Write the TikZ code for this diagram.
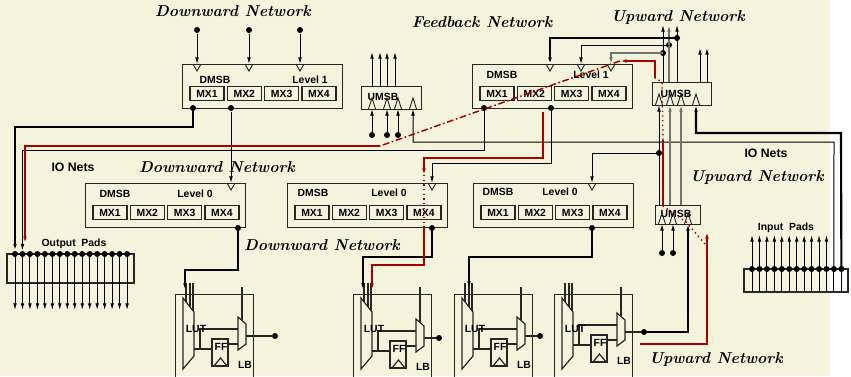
\documentclass[tikz,border=0pt]{standalone}
\usepackage{fontspec}
\setsansfont{Liberation Sans}
\usetikzlibrary{arrows.meta}

\definecolor{paper}{RGB}{244,244,220}
\definecolor{fbred}{RGB}{170,0,0}
\definecolor{wiregray}{RGB}{115,115,115}

\tikzset{every picture/.style={line width=0.75pt}}
\tikzset{
  lbl/.style={font=\sffamily\bfseries\fontsize{7.8}{8.5}\selectfont, inner sep=0pt},
  netlbl/.style={font=\bfseries\itshape\fontsize{11.8}{13}\selectfont, inner sep=0pt},
  iolbl/.style={font=\sffamily\bfseries\fontsize{9.2}{10}\selectfont, inner sep=0pt},
  dot/.style={circle, fill=black, inner sep=0pt, minimum size=4.5pt},
  arr/.style={-{Latex[length=5pt,width=2.8pt]}},
  bus/.style={line width=1.6pt},
  fb/.style={draw=fbred, line width=1.1pt},
  gw/.style={draw=wiregray, line width=1.1pt},
  msb/.style={draw=black!85, line width=0.9pt},
  mxbox/.style={lbl, draw=black!85, line width=0.9pt, minimum width=25.5pt, minimum height=11pt},
  pinin/.style={draw=black!85, line width=0.7pt},
}

\begin{document}
\begin{tikzpicture}[x=0.75pt,y=0.75pt,yscale=-1,xscale=1]
\useasboundingbox (0,0) rectangle (851,376);
\fill[paper] (0,0) rectangle (830,376);

% Network titles
\node[netlbl] (tdown1) at (233,11) {Downward Network};
\node[netlbl] (tfeed) at (482,22) {Feedback Network};
\node[netlbl] (tup1) at (678,18) {Upward Network};
\node[netlbl] (tdown2) at (217,167) {Downward Network};
\node[netlbl] (tdown3) at (322,245) {Downward Network};
\node[netlbl] (tup2) at (757,178) {Upward Network};
\node[netlbl] (tup3) at (716,360) {Upward Network};
\node[iolbl] (tio1) at (73,167) {IO Nets};
\node[iolbl] (tio2) at (766,153) {IO Nets};
\node[lbl] (topad) at (74,244) {Output\ \ Pads};
\node[lbl] (tipad) at (786,228) {Input\ \ Pads};

% DMSB boxes
\foreach \n/\x/\y/\lev/\da/\la/\ly in {l1a/182/64/1/33/128/16, l1b/472/64/1/30/119/11, l0a/85/183/0/30/110/11, l0b/287/183/0/26/102/10, l0c/473/183/0/25/87/9}{
  \node[msb, anchor=north west, minimum width=120pt, minimum height=33pt] (\n) at (\x,\y) {};
  \node[lbl] (\n-t) at (\x+\da,\y+\ly) {DMSB};
  \node[lbl] (\n-lv) at (\x+\la,\y+\ly) {Level \lev};
  \foreach \i in {1,...,4}
    \node[mxbox] (\n-mx\i) at (\x+25+37.3*\i-37.3,\y+29.5) {MX\i};
}

% UMSB boxes
\node[msb, anchor=north west, minimum width=45pt, minimum height=17.25pt] (uA) at (361,86) {};
\node[msb, anchor=north west, minimum width=44.25pt, minimum height=17.25pt] (uB) at (652,82) {};
\node[msb, anchor=north west, minimum width=33.75pt, minimum height=14.25pt] (uC) at (655,205) {};
\node[lbl] (uA-t) at (383,97) {UMSB};
\node[lbl] (uB-t) at (676,94) {UMSB};
\node[lbl] (uC-t) at (676,214) {UMSB};

% input pins of the DMSBs
\foreach \p/\px/\py in {l1a-p1/197/64, l1a-p2/249/64, l1a-p3/300/64, l1b-p1/550/64, l1b-p2/581/64, l1b-p3/611/64, l0a-p/231/183, l0b-p/432/183, l0c-p/592/183}{
  \coordinate (\p) at (\px,\py);
  \draw[pinin] (\px-4,\py) -- (\px,\py+7) -- (\px+4,\py);
}
% input pins of the UMSBs
\foreach \p/\px/\py in {uA-p1/372/109, uA-p2/387/109, uA-p3/398/109, uA-p4/413/109, uB-p1/659/105, uB-p2/670/105, uB-p3/681/105, uB-p4/696/105, uC-p1/662/224, uC-p2/673/224, uC-p3/688/224}{
  \coordinate (\p) at (\px,\py);
  \draw[pinin] (\px-3.5,\py) -- (\px,\py-11) -- (\px+3.5,\py);
}

% logic blocks
\foreach \L/\d/\dy [count=\k] in {175/100/0, 353/86/2, 454/86/0, 554/90/-4}{
  \node[msb, anchor=north west, minimum width=58.5pt, minimum height=75pt] (lb\k) at (\L,294) {};
  \draw[msb] (\L+8,298) -- (\L+19,312) -- (\L+19,356) -- (\L+8,369) -- cycle;
  \draw[msb] (\L+11,283) -- (\L+11,302);
  \draw[msb] (\L+15,283) -- (\L+15,307);
  \draw[msb] (\L+18,283) -- (\L+18,311);
  \draw[msb] (\L+19,349+\dy) -- (\L+37,349+\dy);
  \draw[msb] (\L+25,349+\dy) |- (\L+63,329+\dy);
  \draw[msb] (\L+37,339+\dy) rectangle (\L+53,366+\dy);
  \draw[msb] (\L+39,366+\dy) -- (\L+45.5,358+\dy) -- (\L+52,366+\dy);
  \draw[msb] (\L+53,344+\dy) -- (\L+63,344+\dy);
  \draw[msb] (\L+63,317+\dy) -- (\L+71,324+\dy) -- (\L+71,344+\dy) -- (\L+63,350+\dy) -- cycle;
  \draw[msb] (\L+67,287) -- (\L+67,320+\dy);
  \node[dot] (lbout\k) at (\L+\d,336+\dy) {};
  \draw[msb] (\L+71,336+\dy) -- (lbout\k);
  \node[lbl] (lut\k) at (\L+21,329) {LUT};
  \node[lbl] (ff\k) at (\L+46,347+\dy) {FF};
  \node[lbl] (lbt\k) at (\L+70,365+\dy) {LB};
}
\coordinate (lb1-in) at (185,290);
\coordinate (lb2-in) at (363,290);
\coordinate (lb2-rin) at (372,290);
\coordinate (lb3-in) at (469,288);

% output pads
\draw[msb] (7,254) rectangle (134,283);
\foreach \i in {0,...,15}{
  \draw[arr] (15+7.47*\i,254) -- (15+7.47*\i,310);
  \node[dot] (op\i) at (15+7.47*\i,254) {};
}
\coordinate (op-red) at (25,243);

% input pads
\draw[msb] (744,269) rectangle (848,292);
\foreach \i in {0,...,10}
  \draw[arr] (752+7.45*\i,292) -- (752+7.45*\i,235);
\foreach \i in {11,12}
  \draw (752+7.45*\i,292) -- (752+7.45*\i,269);
\foreach \i in {0,...,12}
  \node[dot] (ip\i) at (752+7.45*\i,269) {};

% dots
\node[dot] (d1in1) at (197,30) {};
\node[dot] (d1in2) at (249,30) {};
\node[dot] (d1in3) at (300,30) {};
\node[dot] (l1a-o1) at (193,108) {};
\node[dot] (l1a-o2) at (231,108) {};
\node[dot] (l1b-o1) at (484,108) {};
\node[dot] (l1b-o2) at (551,108) {};
\node[dot] (l0a-o) at (238,228) {};
\node[dot] (l0b-o) at (432,228) {};
\node[dot] (l0c-o) at (592,228) {};
\node[dot] (uA-in1) at (372,135) {};
\node[dot] (uA-in2) at (387,135) {};
\node[dot] (uA-in3) at (398,135) {};
\node[dot] (uC-in1) at (662,253) {};
\node[dot] (uC-in2) at (673,253) {};
\node[dot] (br1) at (677,38) {};
\node[dot] (br2) at (669,45) {};
\node[dot] (br3) at (663,53) {};
\node[dot] (br4) at (659,153) {};

% downward network
\foreach \i in {1,2,3}
  \draw[arr] (d1in\i) -- (l1a-p\i);
\draw[bus, arr] (l1a-o1.center) -- (193,127) -| (op0);
\draw[arr] (l1a-o2) -- (l0a-p);
\draw[arr] (l1b-o1.center) -- (484,150) -| (op1);
\draw[arr] (l1b-o2.center) -- (551,163) -| (l0b-p);
\draw[bus, arr] (l0a-o.center) -- (238,270) -| (lb1-in);
\draw[bus, arr] (l0b-o.center) -- (432,257) -| (lb2-in);
\draw[bus, arr] (l0c-o.center) -- (592,257) -| (lb3-in);

% upward network
\foreach \i in {1,2,3}
  \draw[arr] (uA-in\i) -- (uA-p\i);
\foreach \ux in {372,380,387,395}
  \draw[arr] (\ux,86) -- (\ux,52);
\draw[arr] (ip11.center) -- (834,142) -| (uA-p4);
\draw[bus, arr] (ip12.center) -- (841,133) -| (uB-p4);
\draw[arr] (uC-in1) -- (uC-p1);
\draw[arr] (uC-in2) -- (uC-p2);
\draw[bus, arr] (lbout4.center) -| (uC-p3);
\draw[arr] (659,205) -- (uB-p1);
\draw[gw, arr] (670,205) -- (uB-p2);
\draw[gw, arr] (681,205) -- (uB-p3);
\draw[arr] (br4.center) -| (l0c-p);
\draw[arr] (663,82) -- (663,25);
\draw[gw, arr] (669,82) -- (669,25);
\draw[arr] (677,82) -- (677,25);
\draw[arr] (700,82) -- (700,48);
\draw[arr] (707,82) -- (707,48);

% feedback network
\draw[bus, arr] (br1.center) -| (l1b-p1);
\draw[arr] (br2.center) -| (l1b-p2);
\draw[gw, arr] (br3.center) -| (l1b-p3);

% feedback path
\draw[fb, arr] (543,112) -- (543,158) -| (424,175);
\draw[fb, dash pattern=on 1pt off 2.5pt] (424,175) -- (424,228);
\draw[fb, arr] (424,228) -- (424,265) -| (lb2-rin);
\draw[fb, arr] (640,344) -| (707,232);
\draw[fb, dash pattern=on 1pt off 2.5pt] (705,244) -- (686,222) -- (663,206);
\draw[fb] (663,205) -- (663,140);
\draw[fb, dash pattern=on 1pt off 2.5pt] (663,140) -- (662,82) -- (655,78);
\draw[fb, arr] (655,78) -- (655,61) -- (620,61);
\draw[fb, dash pattern=on 5pt off 2pt on 1.2pt off 2pt] (620,61) -- (380,146);
\draw[fb, arr] (380,146) -| (op-red);

\end{tikzpicture}
\end{document}
